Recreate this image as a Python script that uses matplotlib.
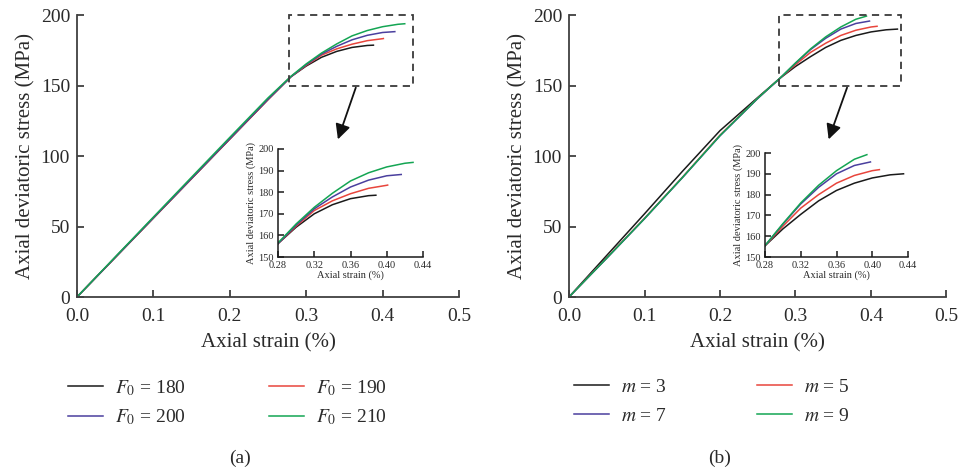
import matplotlib
matplotlib.use("Agg")
import matplotlib.pyplot as plt
from matplotlib.patches import Rectangle, FancyArrowPatch

plt.rcParams['font.family'] = ['Liberation Serif', 'DejaVu Serif']
plt.rcParams['mathtext.fontset'] = 'stix'

# ---------------- data: panel (a), F0 ----------------
strain_a_180 = [0, 0.05, 0.10, 0.15, 0.20, 0.25, 0.28, 0.30, 0.32, 0.34, 0.36, 0.38, 0.388]
stress_a_180 = [0, 28, 56, 84, 112, 140, 156.2, 163.8, 170.0, 174.2, 177.0, 178.4, 178.6]
strain_a_190 = [0, 0.05, 0.10, 0.15, 0.20, 0.25, 0.28, 0.30, 0.32, 0.34, 0.36, 0.38, 0.40, 0.401]
stress_a_190 = [0, 28, 56, 84, 112, 140, 156.2, 164.3, 171.5, 176.0, 179.3, 181.8, 183.2, 183.3]
strain_a_200 = [0, 0.05, 0.10, 0.15, 0.20, 0.25, 0.28, 0.30, 0.32, 0.34, 0.36, 0.38, 0.40, 0.416]
stress_a_200 = [0, 28.1, 56.2, 84.2, 112.3, 140.3, 156.2, 164.8, 172.3, 177.8, 182.4, 185.6, 187.6, 188.2]
strain_a_210 = [0, 0.05, 0.10, 0.15, 0.20, 0.25, 0.28, 0.30, 0.32, 0.34, 0.36, 0.38, 0.40, 0.42, 0.429]
stress_a_210 = [0, 28.4, 56.7, 85.0, 113.2, 141.2, 156.5, 165.3, 173.0, 179.5, 185.2, 189.0, 191.7, 193.4, 193.8]
labels_a = [r'$F_0$ = 180', r'$F_0$ = 190', r'$F_0$ = 200', r'$F_0$ = 210']

# ---------------- data: panel (b), m ----------------
strain_b_3 = [0, 0.05, 0.10, 0.15, 0.20, 0.25, 0.28, 0.30, 0.32, 0.34, 0.36, 0.38, 0.40, 0.42, 0.435]
stress_b_3 = [0, 29.5, 59, 89, 118, 141.5, 155.4, 163.5, 170.5, 177.0, 182.0, 185.5, 188.0, 189.5, 190.0]
strain_b_5 = [0, 0.05, 0.10, 0.15, 0.20, 0.25, 0.28, 0.30, 0.32, 0.34, 0.36, 0.38, 0.40, 0.408]
stress_b_5 = [0, 27.8, 55.8, 84.8, 114.8, 141.0, 155.4, 164.8, 173.5, 180.0, 185.5, 189.2, 191.5, 192.0]
strain_b_7 = [0, 0.05, 0.10, 0.15, 0.20, 0.25, 0.28, 0.30, 0.32, 0.34, 0.36, 0.38, 0.398]
stress_b_7 = [0, 27.5, 55.5, 84.5, 114.3, 140.8, 155.4, 165.8, 175.5, 183.5, 190.0, 194.0, 195.7]
strain_b_9 = [0, 0.05, 0.10, 0.15, 0.20, 0.25, 0.28, 0.30, 0.32, 0.34, 0.36, 0.38, 0.394]
stress_b_9 = [0, 27.6, 55.6, 84.6, 114.5, 141.0, 155.5, 166.0, 176.0, 184.5, 191.5, 197.0, 199.2]
labels_b = [r'$m$ = 3', r'$m$ = 5', r'$m$ = 7', r'$m$ = 9']

colors = ['#1a1a1a', '#e8453c', '#4a3f9e', '#14a553']

series_a = [(strain_a_180, stress_a_180), (strain_a_190, stress_a_190),
            (strain_a_200, stress_a_200), (strain_a_210, stress_a_210)]
series_b = [(strain_b_3, stress_b_3), (strain_b_5, stress_b_5),
            (strain_b_7, stress_b_7), (strain_b_9, stress_b_9)]

x_ticks = [0.0, 0.1, 0.2, 0.3, 0.4, 0.5]
y_ticks = [0, 50, 100, 150, 200]
inset_x_ticks = [0.28, 0.32, 0.36, 0.40, 0.44]
inset_y_ticks = [150, 160, 170, 180, 190, 200]

W, H = 960, 473
fig = plt.figure(figsize=(W / 100, H / 100), dpi=100)

spine_col = '#404040'
text_col = '#2a2a2a'


def px(x0, y0, x1, y1):
    return [x0 / W, 1 - y1 / H, (x1 - x0) / W, (y1 - y0) / H]


def style_main(ax):
    ax.set_xlim(0, 0.5)
    ax.set_ylim(0, 200)
    ax.set_xticks(x_ticks)
    ax.set_xticklabels([f'{v:.1f}' for v in x_ticks])
    ax.set_yticks(y_ticks)
    for s in ['top', 'right']:
        ax.spines[s].set_visible(False)
    for s in ['left', 'bottom']:
        ax.spines[s].set_color(spine_col)
        ax.spines[s].set_linewidth(1.3)
    ax.tick_params(direction='in', length=5, width=1.3, color=spine_col,
                   labelsize=14, labelcolor=text_col)
    ax.tick_params(axis='x', pad=8)
    ax.tick_params(axis='y', pad=5)
    ax.set_xlabel('Axial strain (%)', fontsize=15, color=text_col, labelpad=6)
    ax.set_ylabel('Axial deviatoric stress (MPa)', fontsize=15, color=text_col, labelpad=4)


def style_inset(ax):
    ax.set_xlim(0.28, 0.44)
    ax.set_ylim(150, 200)
    ax.set_xticks(inset_x_ticks)
    ax.set_xticklabels([f'{v:.2f}' for v in inset_x_ticks])
    ax.set_yticks(inset_y_ticks)
    for s in ['top', 'right']:
        ax.spines[s].set_visible(False)
    for s in ['left', 'bottom']:
        ax.spines[s].set_color('#1a1a1a')
        ax.spines[s].set_linewidth(1.1)
    ax.tick_params(direction='in', length=4, width=1.1, color='#1a1a1a',
                   labelsize=7.5, labelcolor=text_col, pad=3)
    ax.set_xlabel('Axial strain (%)', fontsize=7.5, color=text_col, labelpad=0)
    ax.set_ylabel('Axial deviatoric stress (MPa)', fontsize=7.5, color=text_col, labelpad=2)


panels = [
    (px(77, 15, 459, 297), px(278, 149, 423, 257), series_a, labels_a,
     (356.7, 85, 337, 142), (68, 378), 0.5, 4.3, '(a)', 240),
    (px(569, 15, 946.5, 297), px(765, 153, 908, 257), series_b, labels_b,
     (848, 85, 827.7, 142), (574, 378), 0.62, 4.65, '(b)', 720),
]

for (main_rect, inset_rect, series, labels, arrow, leg_pos, lspace, cspace,
     tag, tag_x) in panels:
    ax = fig.add_axes(main_rect)
    handles = []
    for (xs, ys), c, lab in zip(series, colors, labels):
        h, = ax.plot(xs, ys, color=c, lw=1.1, label=lab)
        handles.append(h)
    style_main(ax)
    ax.add_patch(Rectangle((0.278, 150), 0.44 - 0.278, 50, fill=False,
                           edgecolor='#3a3a3a', lw=1.3, linestyle=(0, (4, 3)),
                           clip_on=False, zorder=5))

    axi = fig.add_axes(inset_rect)
    for (xs, ys), c in zip(series, colors):
        axi.plot(xs, ys, color=c, lw=1.1)
    style_inset(axi)

    x0, y0, x1, y1 = arrow
    fig.patches.append(FancyArrowPatch(
        (x0 / W, 1 - y0 / H), (x1 / W, 1 - y1 / H), transform=fig.transFigure,
        arrowstyle='-|>,head_length=6,head_width=3', color='#111111', lw=1.3,
        mutation_scale=1.5))

    order = [0, 2, 1, 3]
    fig.legend([handles[i] for i in order], [labels[i] for i in order],
               loc='upper left', bbox_to_anchor=(leg_pos[0] / W, 1 - leg_pos[1] / H),
               ncol=2, frameon=False, fontsize=14, handlelength=1.8,
               handletextpad=0.6, columnspacing=cspace, labelspacing=lspace,
               borderpad=0, borderaxespad=0, labelcolor=text_col)

    fig.text(tag_x / W, 1 - 458 / H, tag, ha='center', va='center',
             fontsize=14, color=text_col)

fig.savefig('out.png', dpi=100)
